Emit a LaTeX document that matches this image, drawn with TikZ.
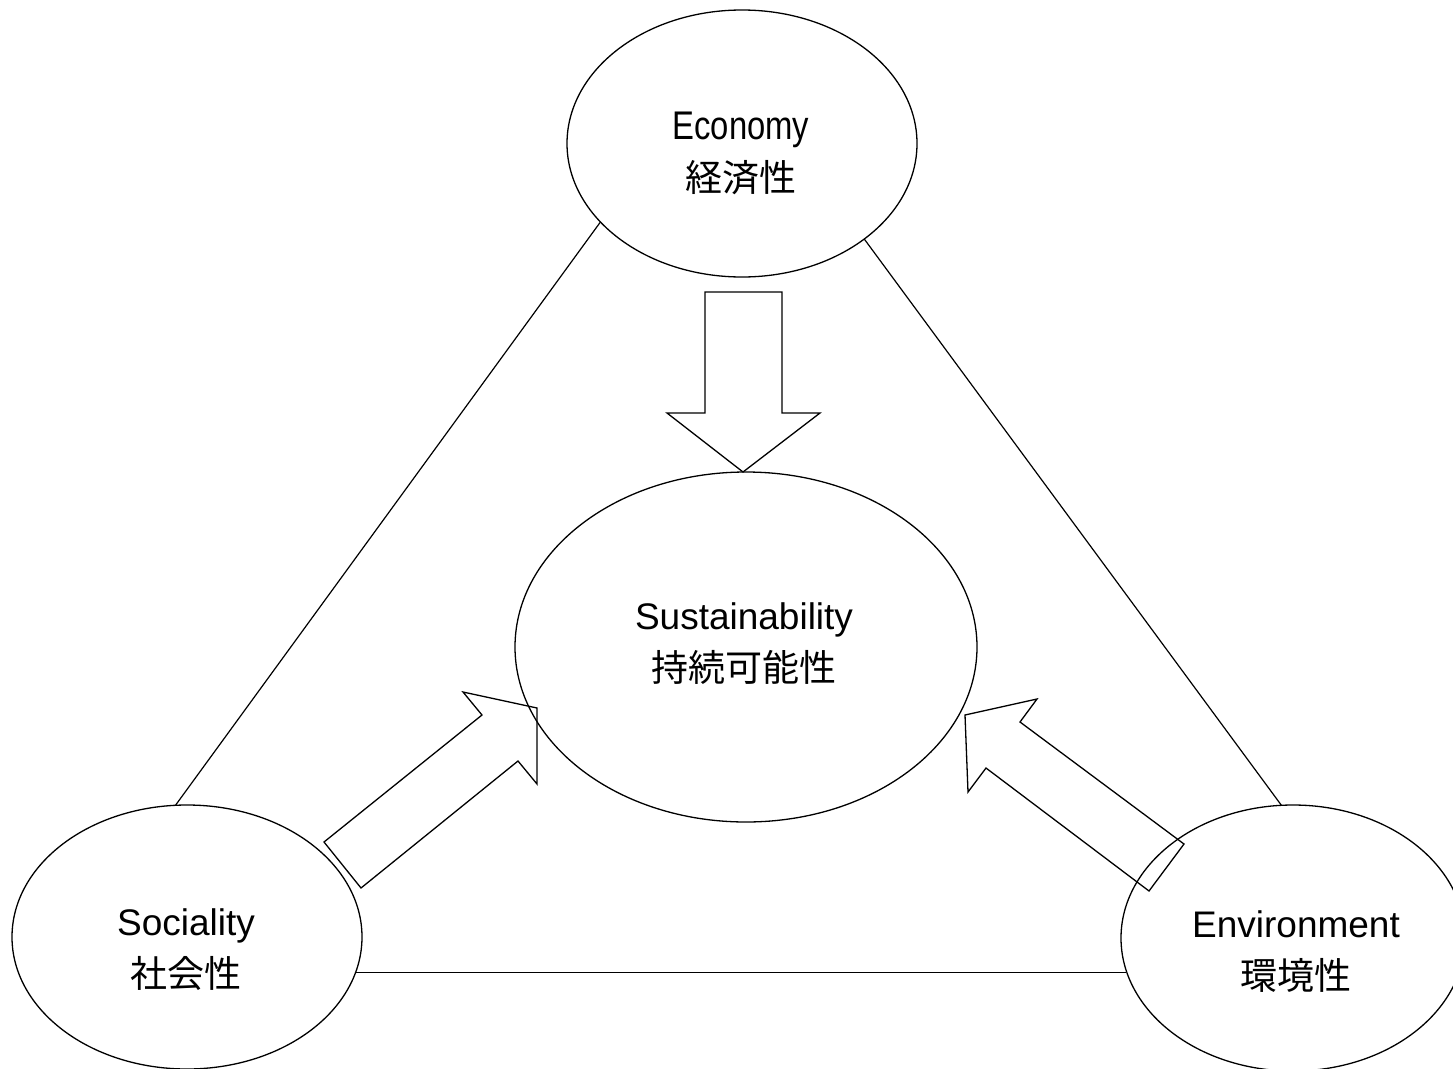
\documentclass[tikz,border=0pt]{standalone}
\usepackage{fontspec}
\setmainfont{Liberation Sans}
\newfontfamily\jp{Noto Sans CJK JP}
\usetikzlibrary{shapes.geometric}
\begin{document}
\begin{tikzpicture}[x=1pt,y=-1pt,
  oval/.style={ellipse,draw,line width=1.3pt,inner sep=0pt,outer sep=0pt},
  lbl/.style={align=center,font=\fontsize{37}{52}\selectfont,inner sep=0pt},
  link/.style={line width=1.2pt},
  blockarrow/.style={draw,line width=1.3pt,line join=miter}]
\useasboundingbox (0,0) rectangle (1453,1068);
% ellipses
\node[oval,minimum width=350pt,minimum height=267pt] (eco) at (742,143.5) {};
\node[oval,minimum width=462pt,minimum height=350pt] (sus) at (746,647) {};
\node[oval,minimum width=350pt,minimum height=264pt] (soc) at (187,937) {};
\node[oval,minimum width=344pt,minimum height=266pt] (env) at (1293,938) {};
% labels
\node[lbl] (ecot) at (741,153) {\scalebox{0.82}[1]{\fontsize{40}{52}\selectfont Economy}\\{\jp 経済性}};
\node[lbl] (sust) at (744,644) {Sustainability\\{\jp 持続可能性}};
\node[lbl] (soct) at (186,950) {Sociality\\{\jp 社会性}};
\node[lbl] (envt) at (1296,952) {Environment\\{\jp 環境性}};
% triangle links
\draw[link] (eco.209.4) -- (soc.95.6);
\draw[link] (eco.322.5) -- (env.95.6);
\draw[link] (soc.348) -- (soc.348 -| env.191.5);
% block arrows
\draw[blockarrow] (705,292) -- (782,292) -- (782,413) -- (820,413) -- (743,472) -- (667,413) -- (705,413) -- cycle;
\draw[blockarrow] (324,842) -- (482,715) -- (463,692) -- (537,708) -- (537,784) -- (518,761) -- (361,888) -- cycle;
\draw[blockarrow] (1184,844) -- (1020,722) -- (1037,699) -- (965,715) -- (968,792) -- (986,768) -- (1149,891) -- cycle;
\end{tikzpicture}
\end{document}
